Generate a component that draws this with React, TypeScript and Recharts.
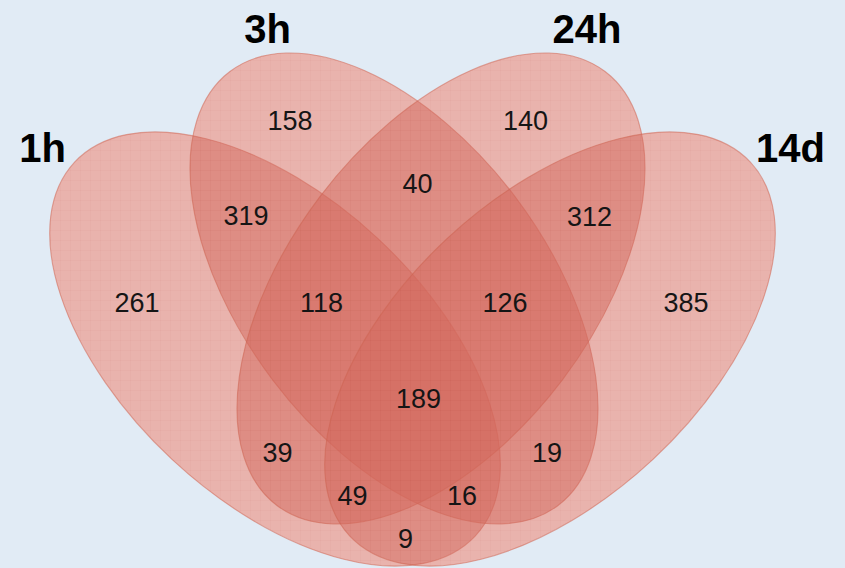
import React from 'react';
import { ScatterChart, Scatter, XAxis, YAxis } from 'recharts';

// ---- data ----
const setNames = ['1h', '3h', '24h', '14d'];
const regionMembers = [
  '1h', '3h', '24h', '14d',
  '1h&3h', '3h&24h', '24h&14d', '1h&24h', '3h&14d', '1h&14d',
  '1h&3h&24h', '3h&24h&14d', '1h&24h&14d', '1h&3h&14d',
  '1h&3h&24h&14d',
];
const regionCounts = [261, 158, 140, 385, 319, 40, 312, 39, 19, 9, 118, 126, 49, 16, 189];

// ---- layout (chart units, 1 unit = 1 px) ----
const W = 845;
const H = 568;
const ellipseCenters = [
  { x: 275, y: 349 },
  { x: 394, y: 288.5 },
  { x: 441, y: 288.5 },
  { x: 550, y: 349 },
];
const ellipseAxes = [
  { a: 274, b: 151, angle: 43 },
  { a: 272, b: 152, angle: 52.9 },
  { a: 272, b: 152, angle: -52.9 },
  { a: 274, b: 151, angle: -43 },
];
const titleAnchors = [
  { x: 42.5, y: 162 },
  { x: 267.5, y: 43 },
  { x: 587, y: 43 },
  { x: 790.5, y: 162 },
];
const labelAnchors = [
  { x: 137, y: 312 }, { x: 290, y: 130 }, { x: 525.5, y: 130 }, { x: 686, y: 312 },
  { x: 246, y: 225 }, { x: 417.5, y: 193 }, { x: 589.5, y: 226 }, { x: 277.5, y: 462 },
  { x: 547, y: 462 }, { x: 405.5, y: 548 },
  { x: 321.5, y: 312 }, { x: 505, y: 312 }, { x: 352.5, y: 505 }, { x: 462, y: 505 },
  { x: 418.5, y: 408 },
];

const FILL = 'rgb(212,104,92)';
const FILL_OPACITY = 0.5;
const STROKE = 'rgba(206,100,82,0.55)';
const FONT = '"Liberation Sans", Arial, Helvetica, sans-serif';

const ellipseData = setNames.map((name, i) => ({
  name,
  x: ellipseCenters[i].x,
  y: ellipseCenters[i].y,
  a: ellipseAxes[i].a,
  b: ellipseAxes[i].b,
  angle: ellipseAxes[i].angle,
  idx: i,
}));
const titleData = setNames.map((name, i) => ({ name, x: titleAnchors[i].x, y: titleAnchors[i].y }));
const labelData = regionMembers.map((key, i) => ({
  key,
  value: regionCounts[i],
  x: labelAnchors[i].x,
  y: labelAnchors[i].y,
}));

const unit = 1; // px per chart unit (domain equals pixel range)

const ellipsePath = (cx: number, cy: number, p: any) => {
  const a = p.a * unit;
  const b = p.b * unit;
  const t = (p.angle * Math.PI) / 180;
  const x1 = cx - a * Math.cos(t);
  const y1 = cy - a * Math.sin(t);
  const x2 = cx + a * Math.cos(t);
  const y2 = cy + a * Math.sin(t);
  return `M${x1},${y1} A${a},${b} ${p.angle} 0 1 ${x2},${y2} A${a},${b} ${p.angle} 0 1 ${x1},${y1} Z`;
};

const UnderlayShape = (props: any) => (
  <path d={ellipsePath(props.cx, props.cy, props.payload)} fill="#ffffff" stroke="none" />
);

const EllipseShape = (props: any) => {
  const { cx, cy, payload } = props;
  const d = ellipsePath(cx, cy, payload);
  const pid = `venn-grid-${payload.idx}`;
  return (
    <g>
      <defs>
        <pattern id={pid} width="10" height="10" patternUnits="userSpaceOnUse">
          <path d="M10 0 L0 0 0 10" fill="none" stroke="rgba(170,60,40,0.07)" strokeWidth="1" />
        </pattern>
      </defs>
      <path d={d} fill={FILL} fillOpacity={FILL_OPACITY} stroke="none" />
      <path d={d} fill={`url(#${pid})`} stroke={STROKE} strokeWidth={1.1} />
    </g>
  );
};

const TitleShape = (props: any) => (
  <text
    x={props.cx}
    y={props.cy}
    textAnchor="middle"
    fontFamily={FONT}
    fontWeight="bold"
    fontSize={40}
    fill="#000"
  >
    {props.payload.name}
  </text>
);

const LabelShape = (props: any) => (
  <text
    x={props.cx}
    y={props.cy}
    textAnchor="middle"
    fontFamily={FONT}
    fontSize={27}
    fill="#151515"
  >
    {props.payload.value}
  </text>
);

export default function App() {
  return (
    <div style={{ width: W, height: H, background: '#e1ebf5', overflow: 'hidden' }}>
      <style>{'html,body{margin:0;padding:0;background:#e1ebf5;}'}</style>
      <ScatterChart width={W} height={H} margin={{ top: 0, right: 0, bottom: 0, left: 0 }}>
        <XAxis dataKey="x" type="number" domain={[0, W]} hide allowDataOverflow />
        <YAxis dataKey="y" type="number" domain={[0, H]} reversed hide allowDataOverflow />
        <Scatter data={ellipseData} shape={UnderlayShape} isAnimationActive={false} />
        <Scatter data={ellipseData} shape={EllipseShape} isAnimationActive={false} />
        <Scatter data={labelData} shape={LabelShape} isAnimationActive={false} />
        <Scatter data={titleData} shape={TitleShape} isAnimationActive={false} />
      </ScatterChart>
    </div>
  );
}
